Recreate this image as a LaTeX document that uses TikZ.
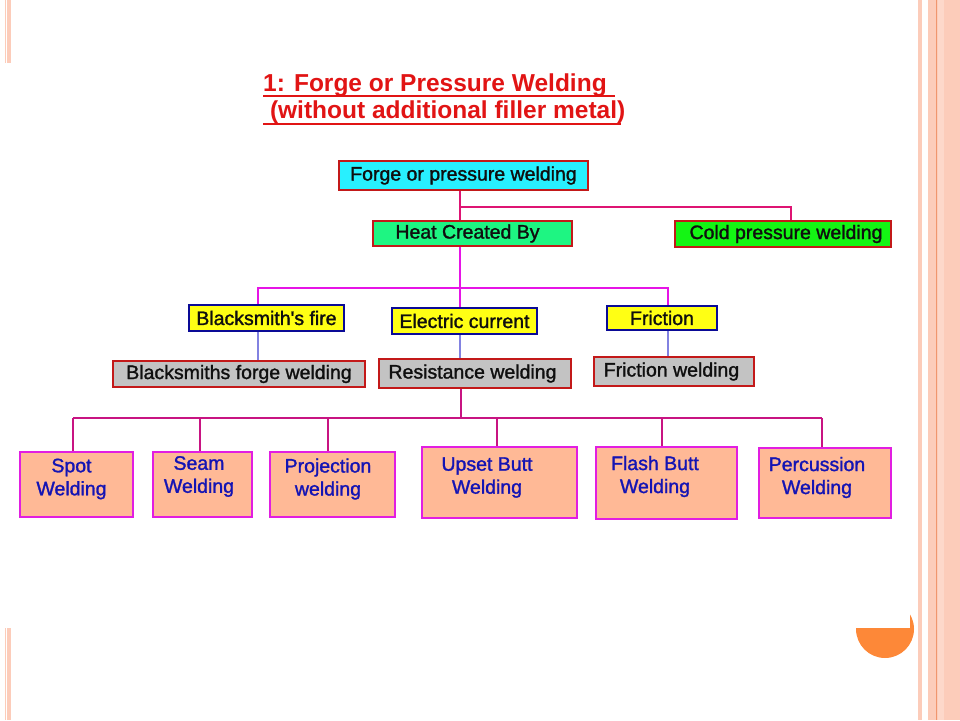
\documentclass[tikz,border=0pt]{standalone}
\usepackage{fontspec}
\setmainfont{Liberation Sans}
\newfontfamily\boxfont{Liberation Sans}[FakeBold=1.4]
\definecolor{titlered}{RGB}{225,20,20}
\definecolor{cyanfill}{RGB}{40,240,255}
\definecolor{boxred}{RGB}{195,25,25}
\definecolor{springfill}{RGB}{30,245,130}
\definecolor{limefill}{RGB}{20,245,20}
\definecolor{yelfill}{RGB}{255,255,20}
\definecolor{navyb}{RGB}{10,10,150}
\definecolor{grayfill}{RGB}{195,195,195}
\definecolor{peach}{RGB}{255,185,150}
\definecolor{magborder}{RGB}{225,30,225}
\definecolor{lineA}{RGB}{222,20,115}
\definecolor{lineB}{RGB}{230,20,230}
\definecolor{lineblue}{RGB}{130,130,225}
\definecolor{lineC}{RGB}{200,20,130}
\definecolor{textblue}{RGB}{20,20,180}
\definecolor{textdark}{RGB}{15,15,15}
\definecolor{band}{RGB}{252,204,186}
\definecolor{bandline}{RGB}{240,150,110}
\definecolor{bandlight}{RGB}{253,216,202}
\definecolor{dot}{RGB}{253,136,56}
\tikzset{
  box/.style={draw, line width=2pt, inner sep=0pt, text=textdark,
    font=\boxfont\fontsize{19.5}{23}\selectfont},
  redbox/.style={box, draw=boxred},
  yelbox/.style={box, draw=navyb, fill=yelfill},
  leafbox/.style={draw=magborder, line width=2pt, fill=peach, inner sep=0pt},
  leaftext/.style={text=textblue, align=center, inner sep=0pt,
    font=\boxfont\fontsize{19.5}{23}\selectfont},
  conn/.style={line width=2pt},
  titletext/.style={text=titlered, inner sep=0pt, anchor=base west,
    font=\fontsize{24.5}{28}\selectfont\bfseries}
}
\begin{document}
\begin{tikzpicture}[x=1pt,y=-1pt]
\useasboundingbox (0,0) rectangle (960,720);
% slide decoration
\fill[band] (5,0) rectangle (11,63);
\fill[band] (5,628) rectangle (11,720);
\draw[white, line width=0.8pt] (6.5,0) -- (6.5,63);
\draw[white, line width=0.8pt] (6.5,628) -- (6.5,720);
\fill[band] (918,0) rectangle (922,720);
\fill[band] (928,0) rectangle (960,720);
\fill[bandlight] (938,0) rectangle (944,720);
\draw[bandline, line width=1.2pt] (936.5,0) -- (936.5,720);
\fill[dot] (885,629) circle (29);
\fill[white] (850,590) rectangle (910,628);

% title
\node[titletext] (tl1) at (263,91) {1: Forge or Pressure Welding};
\node[titletext] (tl2) at (263,118) {\ (without additional filler metal)};
\draw[titlered, line width=2pt] (263,96) -- (615,96);
\draw[titlered, line width=2pt] (263,124) -- (621,124);

% boxes
\node[redbox, fill=cyanfill, minimum width=249, minimum height=29] (forge) at (463.5,175.5) {Forge or pressure welding};
\node[redbox, fill=springfill, minimum width=199, minimum height=25] (heat) at (472.5,233.5) {\hspace*{-10pt}Heat Created By};
\node[redbox, fill=limefill, minimum width=216, minimum height=26] (cold) at (783,234) {\hspace*{6pt}Cold pressure welding};
\node[yelbox, minimum width=155, minimum height=26] (bfire) at (266.5,318) {Blacksmith\textquotesingle s fire};
\node[yelbox, minimum width=145, minimum height=26] (elec) at (464.5,321) {Electric current};
\node[yelbox, minimum width=110, minimum height=24] (fric) at (662,318) {Friction};
\node[redbox, fill=grayfill, minimum width=252, minimum height=26] (bforge) at (239,374) {Blacksmiths forge welding};
\node[redbox, fill=grayfill, minimum width=192, minimum height=29] (resist) at (475,373.5) {Resistance welding\hspace*{5pt}};
\node[redbox, fill=grayfill, minimum width=160, minimum height=29] (fricw) at (674,371.5) {Friction welding\hspace*{5pt}};

\node[leafbox, minimum width=113, minimum height=65] (b1) at (76.5,484.5) {};
\node[leafbox, minimum width=99, minimum height=65] (b2) at (202.5,484.5) {};
\node[leafbox, minimum width=125, minimum height=65] (b3) at (332.5,484.5) {};
\node[leafbox, minimum width=155, minimum height=71] (b4) at (499.5,482.5) {};
\node[leafbox, minimum width=141, minimum height=72] (b5) at (666.5,483) {};
\node[leafbox, minimum width=132, minimum height=70] (b6) at (825,483) {};

\node[leaftext] (t1) at (71.5,479) {Spot\\Welding};
\node[leaftext] (t2) at (199,476.5) {Seam\\Welding};
\node[leaftext] (t3) at (328,479) {Projection\\welding};
\node[leaftext] (t4) at (487,477.5) {Upset Butt\\Welding};
\node[leaftext] (t5) at (655,476.5) {Flash Butt\\Welding};
\node[leaftext] (t6) at (817,477.5) {Percussion\\Welding};

% connector x positions
\coordinate (tr) at (460,0);
\coordinate (xc) at (791,0);
\coordinate (xa) at (258,0);
\coordinate (xf) at (668,0);
\coordinate (j1) at (460,207);
\coordinate (j2) at (460,288);
\coordinate (j3) at (461,418);
\coordinate (d1) at (73,418);
\coordinate (d2) at (200,418);
\coordinate (d3) at (328,418);
\coordinate (d4) at (497,418);
\coordinate (d5) at (662,418);
\coordinate (d6) at (822,418);

% connectors
\draw[conn, lineA] (forge.south -| tr) -- (heat.north -| tr);
\draw[conn, lineA] (j1) -| (cold.north -| xc);
\draw[conn, lineB] (heat.south -| tr) -- (j2);
\draw[conn, lineB] (bfire.north -| xa) |- (j2) -| (fric.north -| xf);
\draw[conn, lineB] (j2) -- (elec.north -| tr);
\draw[conn, lineblue] (bfire.south -| xa) -- (bforge.north -| xa);
\draw[conn, lineblue] (elec.south -| tr) -- (resist.north -| tr);
\draw[conn, lineblue] (fric.south -| xf) -- (fricw.north -| xf);
\draw[conn, lineC] (resist.south -| j3) -- (j3);
\draw[conn, lineC] (d1) -- (d6);
\foreach \i in {1,...,6} {
  \draw[conn, lineC] (d\i) -- (b\i.north -| d\i);
}
\end{tikzpicture}
\end{document}
